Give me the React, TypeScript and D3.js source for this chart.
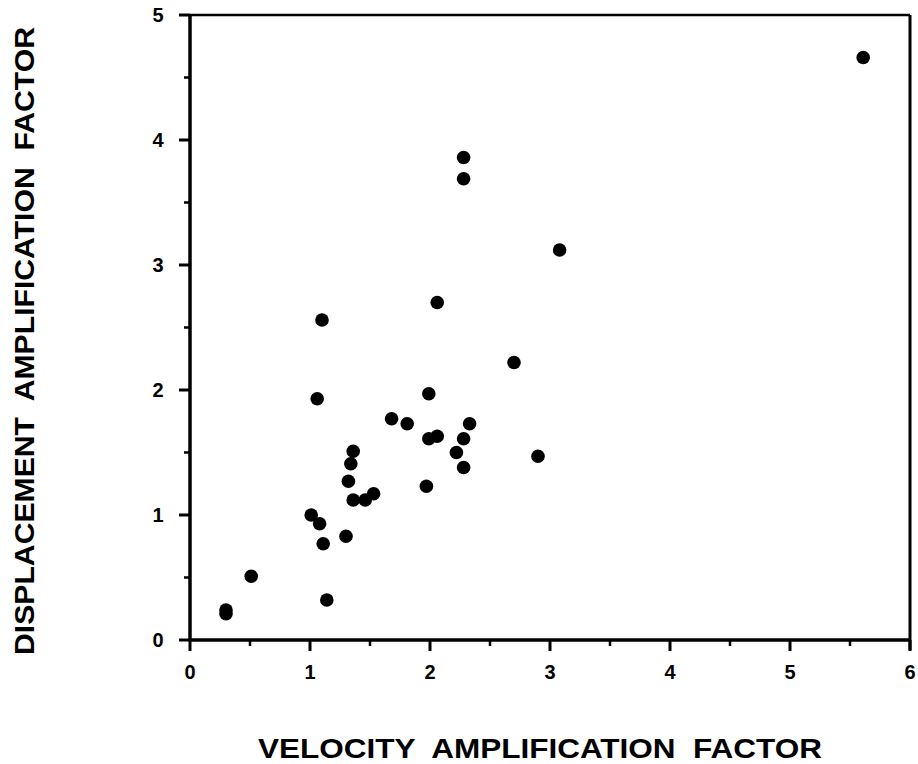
import React from "react";
import * as d3 from "d3";

const velocity = [0.30, 0.30, 0.51, 1.01, 1.08, 1.11, 1.14, 1.06, 1.10, 1.30, 1.32, 1.34, 1.36, 1.36, 1.46, 1.53, 1.68, 1.81, 1.97, 1.99, 1.99, 2.06, 2.06, 2.22, 2.28, 2.28, 2.33, 2.28, 2.28, 2.70, 2.90, 3.08, 5.61];
const displacement = [0.24, 0.21, 0.51, 1.00, 0.93, 0.77, 0.32, 1.93, 2.56, 0.83, 1.27, 1.41, 1.51, 1.12, 1.12, 1.17, 1.77, 1.73, 1.23, 1.97, 1.61, 1.63, 2.70, 1.50, 1.61, 1.38, 1.73, 3.69, 3.86, 2.22, 1.47, 3.12, 4.66];
const xTicks = [0, 1, 2, 3, 4, 5, 6];
const yTicks = [0, 1, 2, 3, 4, 5];
const xTitle = "VELOCITY  AMPLIFICATION  FACTOR";
const yTitle = "DISPLACEMENT  AMPLIFICATION  FACTOR";

export default function App() {
  const W = 918, H = 764;
  const x = d3.scaleLinear().domain([0, 6]).range([190, 910]);
  const y = d3.scaleLinear().domain([0, 5]).range([640, 15]);
  const font = "'Liberation Sans', Arial, sans-serif";
  const xMinor = d3.range(0.5, 6, 1);
  const yMinor = d3.range(0.5, 5, 1);
  return (
    <svg width={W} height={H} style={{ position: "absolute", left: 0, top: 0, background: "#fff" }}>
      <rect x={0} y={0} width={W} height={H} fill="#fff" />
      {/* frame */}
      <line x1={x(0)} x2={x(6)} y1={y(5)} y2={y(5)} stroke="#000" strokeWidth={2.5} />
      <line x1={x(6)} x2={x(6)} y1={y(5)} y2={y(0) + 10} stroke="#000" strokeWidth={3} />
      <line x1={x(0)} x2={x(0)} y1={y(5)} y2={y(0)} stroke="#000" strokeWidth={3.5} />
      <line x1={x(0)} x2={x(6)} y1={y(0)} y2={y(0)} stroke="#000" strokeWidth={3.5} />
      {/* x ticks */}
      {xTicks.map((t) => (
        <g key={"xt" + t}>
          <line x1={x(t)} x2={x(t)} y1={y(0)} y2={y(0) + 11} stroke="#000" strokeWidth={3} />
          <text x={x(t)} y={y(0) + 39} textAnchor="middle" fontFamily={font} fontWeight="bold" fontSize={20} fill="#000">{t}</text>
        </g>
      ))}
      {xMinor.map((t) => (
        <line key={"xm" + t} x1={x(t)} x2={x(t)} y1={y(0)} y2={y(0) + 6} stroke="#000" strokeWidth={2.5} />
      ))}
      {/* y ticks */}
      {yTicks.map((t) => (
        <g key={"yt" + t}>
          <line x1={x(0) - 11} x2={x(0)} y1={y(t)} y2={y(t)} stroke="#000" strokeWidth={3} />
          <text x={x(0) - 32} y={y(t) + 7} textAnchor="middle" fontFamily={font} fontWeight="bold" fontSize={20} fill="#000">{t}</text>
        </g>
      ))}
      {yMinor.map((t) => (
        <line key={"ym" + t} x1={x(0) - 6} x2={x(0)} y1={y(t)} y2={y(t)} stroke="#000" strokeWidth={2.5} />
      ))}
      {/* points */}
      {velocity.map((v, i) => (
        <circle key={"p" + i} cx={x(v)} cy={y(displacement[i])} r={6.8} fill="#000" />
      ))}
      {/* titles */}
      <text x={540} y={758} textAnchor="middle" fontFamily={font} fontWeight="bold" fontSize={28} fill="#000"
        textLength={564} lengthAdjust="spacingAndGlyphs" style={{ whiteSpace: "pre" }}>{xTitle}</text>
      <text transform={`translate(34, 341) rotate(-90)`} textAnchor="middle" fontFamily={font} fontWeight="bold" fontSize={27} fill="#000"
        textLength={628} lengthAdjust="spacingAndGlyphs" style={{ whiteSpace: "pre" }}>{yTitle}</text>
    </svg>
  );
}
